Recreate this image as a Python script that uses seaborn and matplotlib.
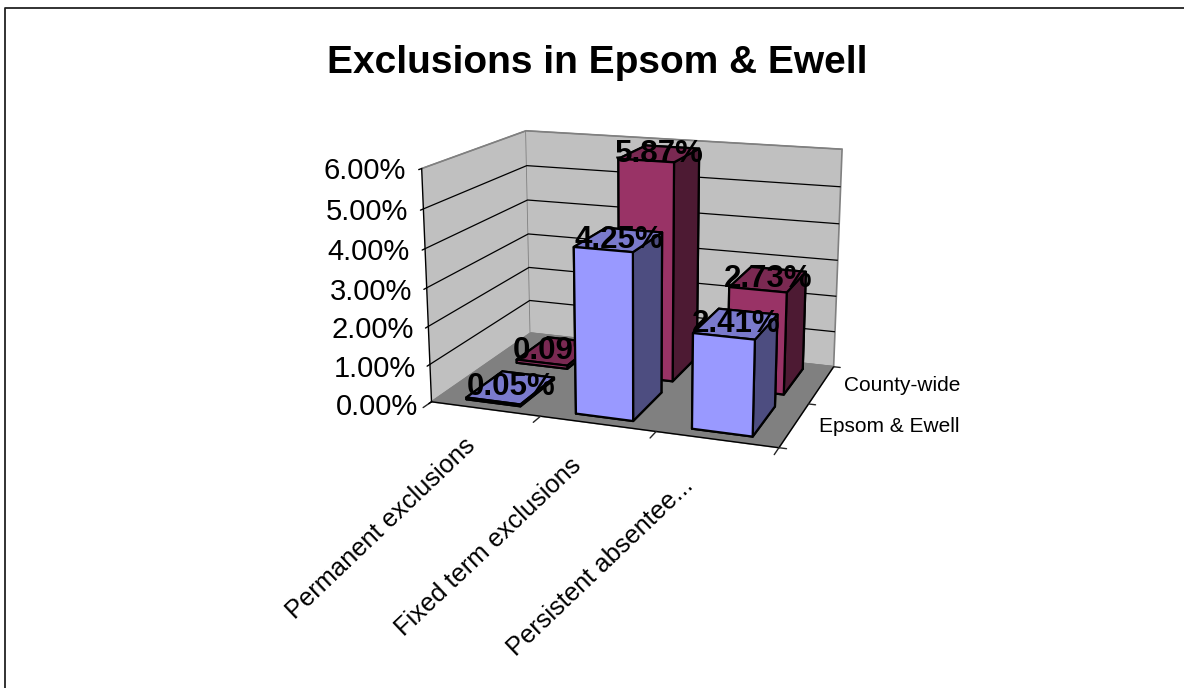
import numpy as np
import pandas as pd
import matplotlib
matplotlib.use('Agg')
import matplotlib.pyplot as plt
from matplotlib.lines import Line2D
from mpl_toolkits.mplot3d import proj3d
import seaborn as sns

#values
categories = ['Permanent exclusions', 'Fixed term exclusions', 'Persistent absentee...']
series_names = ['Epsom & Ewell', 'County-wide']
epsom = [0.05, 4.25, 2.41]
county = [0.09, 5.87, 2.73]
z_ticks = [0, 1, 2, 3, 4, 5, 6]
z_labels = ['0.00%', '1.00%', '2.00%', '3.00%', '4.00%', '5.00%', '6.00%']

df = pd.DataFrame({'category': categories * 2,
                   'series': [series_names[0]] * 3 + [series_names[1]] * 3,
                   'value': epsom + county})

sns.set_theme(style='white', font='Liberation Sans')
palette = sns.color_palette(['#9999FF', '#993366'])

W, H = 1184, 688
fig = plt.figure(figsize=(W / 100, H / 100), dpi=100)

#3D box fitted to the corners of the original
S = 469.6
ax = fig.add_axes([398.8 / W, 173.3 / H, S / W, S / H], projection='3d')
ax.view_init(elev=15.05, azim=-70.34)
ax.set_proj_type('persp', focal_length=0.537)
ax.set_box_aspect((4.112, 2.787, 2.73))
ax.computed_zorder = False
ax.patch.set_alpha(0)
ax.set_xlim(0, 3)
ax.set_ylim(0, 2)
ax.set_zlim(0, 6)

#walls and floor
ax.xaxis.set_pane_color('#C0C0C0')
ax.yaxis.set_pane_color('#C0C0C0')
ax.zaxis.set_pane_color('#808080')
for axis, tick_len in [(ax.xaxis, 0.9), (ax.yaxis, 0.25), (ax.zaxis, 0.3)]:
    axis.pane.set_edgecolor('#808080')
    axis.pane.set_linewidth(1.2)
    axis.line.set_color('black')
    axis.line.set_linewidth(1.0)
    axis._axinfo['tick']['color'] = 'black'
    axis._axinfo['tick']['linewidth'] = {True: 1.0, False: 0.5}
    axis._axinfo['tick']['inward_factor'] = tick_len
    axis._axinfo['tick']['outward_factor'] = 0.0
ax.xaxis._axinfo['grid']['color'] = (0, 0, 0, 0)
ax.yaxis._axinfo['grid']['color'] = (0, 0, 0, 0)
ax.zaxis._axinfo['grid']['color'] = ['#808080'] + ['black'] * 5 + ['#808080']
ax.zaxis._axinfo['grid']['linewidth'] = 0.9

ax.set_xticks(range(len(categories) + 1), [''] * (len(categories) + 1))
ax.set_yticks(range(len(series_names) + 1), [''] * (len(series_names) + 1))
ax.set_zticks(z_ticks, z_labels)
ax.zaxis.set_ticks_position('lower')
ax.tick_params(axis='z', labelsize=21, pad=14, colors='black')
for lab in ax.zaxis.get_ticklabels():
    lab.set_va('center')


def label3d(x, y, z, text, **kw):
    #real 2D text at the projected spot of a 3D point
    px, py, _ = proj3d.proj_transform(x, y, z, ax.get_proj())
    return ax.text2D(px, py, text, transform=ax.transData, color='black', **kw)


#back series first so the front bars hide what they should
order = 1
for s_idx in [1, 0]:
    rows = df[df['series'] == series_names[s_idx]]
    base = np.array(palette[s_idx])
    faces = [base, base * 0.8, base, base, base, base * 0.5]
    for c_idx, val in enumerate(rows['value']):
        ax.bar3d(c_idx + 0.25, s_idx + 0.15, 0, 0.5, 0.7, val, color=faces, shade=False,
                 edgecolor='black', linewidth=1.6, zorder=order)
        label3d(c_idx + 0.5, s_idx + 0.5, val, f'{val:.2f}%', ha='center', va='center',
                fontsize=22.5, fontweight='bold', zorder=order + 0.5)
        order += 1

for c_idx, name in enumerate(categories):
    label3d(0.29 + 0.96 * c_idx, 0, -0.75 - 0.125 * c_idx, name, rotation=43.6, rotation_mode='anchor',
            ha='right', va='top', fontsize=18.3)
for s_idx, name in enumerate(series_names):
    label3d(3.2, s_idx + 0.5, 0.05, name, ha='left', va='center', fontsize=15)

fig.text(597 / W, 1 - 63 / H, 'Exclusions in Epsom & Ewell', ha='center', va='center',
         fontsize=28, fontweight='bold', color='black')

#frame, only top and left fall inside the image
fig.add_artist(Line2D([5 / W, 5 / W, 1], [0, 1 - 8 / H, 1 - 8 / H], color='#222222', lw=1.3))

fig.savefig('out.png', dpi=100)
